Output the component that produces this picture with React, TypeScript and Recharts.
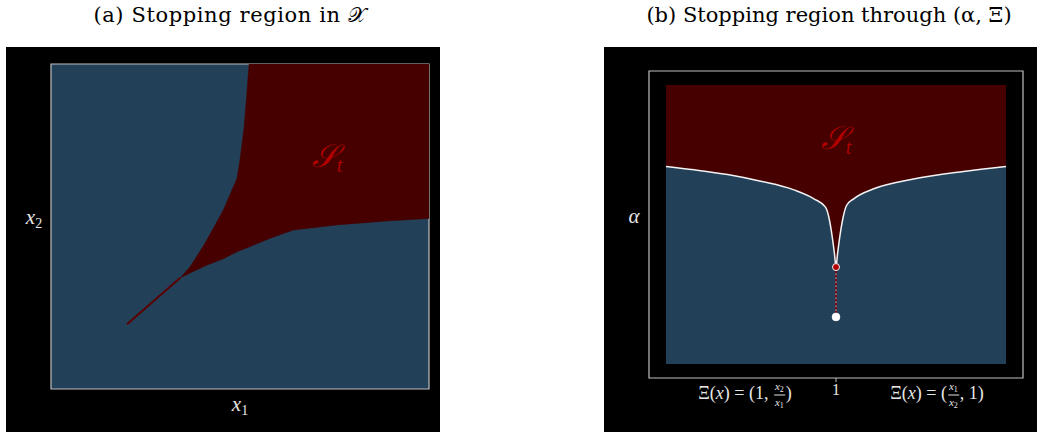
import React from "react";
import {
  ComposedChart,
  Area,
  Line,
  XAxis,
  YAxis,
  ReferenceArea,
  ReferenceDot,
} from "recharts";

// ---------- Panel (a): stopping region in X ----------
const x1Grid = [0.342, 0.368, 0.403, 0.412, 0.456, 0.492, 0.5, 0.511, 0.518, 0.524, 0.58, 0.641, 0.756, 0.888, 1.0];
const stopLowerA = [0.342, 0.357, 0.376, 0.381, 0.401, 0.422, 0.426, 0.431, 0.434, 0.437, 0.464, 0.489, 0.505, 0.517, 0.525];
const stopUpperA = [0.342, 0.376, 0.44, 0.458, 0.551, 0.648, 0.705, 0.807, 0.91, 1.0, 1.0, 1.0, 1.0, 1.0, 1.0];
const diagX1 = [0.201, 0.342];
const diagX2 = [0.199, 0.342];

// ---------- Panel (b): stopping region through (alpha, Xi) ----------
const xiGrid = [0, 0.166, 0.362, 0.557, 0.752, 0.87, 0.938, 0.958, 0.978, 0.991, 1.0, 1.009, 1.022, 1.042, 1.062, 1.104, 1.222, 1.456, 1.75, 2.0];
const alphaBoundary = [0.708, 0.696, 0.679, 0.655, 0.624, 0.592, 0.562, 0.526, 0.455, 0.395, 0.3475, 0.395, 0.455, 0.526, 0.568, 0.592, 0.628, 0.663, 0.69, 0.708];
const alphaMax = 1;
const cuspXi = 1;
const cuspAlpha = 0.3475;
const pointAlpha = 0.169;
const xiTicks = [1];
const xiTickLabels = ["1"];

const BLUE = "#234059";
const RED = "#460000";
const LINE_RED = "#5a0000";
const FRAME = "#c0c0c0";
const LABEL = "#e6e6e6";
const ST_RED = "#b00000";

const areaA = x1Grid.map((x, i) => ({ x, range: [stopLowerA[i], stopUpperA[i]] }));
const diagA = diagX1.map((x, i) => ({ x, y: diagX2[i] }));
const areaB = xiGrid.map((x, i) => ({ x, range: [alphaBoundary[i], alphaMax], y: alphaBoundary[i] }));
const stemB = [
  { x: cuspXi, y: cuspAlpha },
  { x: cuspXi, y: pointAlpha },
];

const serif = "'Liberation Serif', 'DejaVu Serif', serif";

function Abs({ left, top, children, style }: any) {
  return (
    <div
      style={{
        position: "absolute",
        left,
        top,
        transform: "translate(-50%, -50%)",
        whiteSpace: "nowrap",
        lineHeight: 1,
        fontFamily: serif,
        ...style,
      }}
    >
      {children}
    </div>
  );
}

function Sub({ children, size }: any) {
  return (
    <span style={{ fontSize: size, fontStyle: "normal", verticalAlign: "-0.25em" }}>{children}</span>
  );
}

function Frac({ num, den }: any) {
  return (
    <span
      style={{
        display: "inline-flex",
        flexDirection: "column",
        alignItems: "center",
        verticalAlign: "middle",
        fontSize: 11,
        lineHeight: 1,
        margin: "0 1px",
      }}
    >
      <span style={{ borderBottom: `1px solid ${LABEL}`, padding: "0 1px 1px" }}>
        <i>x</i>
        <Sub size={8}>{num}</Sub>
      </span>
      <span style={{ paddingTop: 1 }}>
        <i>x</i>
        <Sub size={8}>{den}</Sub>
      </span>
    </span>
  );
}

const titleStyle = { fontFamily: "'DejaVu Serif', serif", color: "#000" };

export default function App() {
  return (
    <div style={{ position: "absolute", left: 0, top: 0, width: 1037, height: 434, background: "#fff" }}>
      {/* Titles */}
      <Abs left={230} top={15} style={{ ...titleStyle, fontSize: 21, letterSpacing: 0.6 }}>
        (a) Stopping region in 𝒳
      </Abs>
      <Abs left={829} top={15} style={{ ...titleStyle, fontSize: 21 }}>
        (b) Stopping region through (α, Ξ)
      </Abs>

      {/* Panel (a) */}
      <div style={{ position: "absolute", left: 6, top: 47 }}>
        <ComposedChart
          width={434}
          height={385}
          margin={{ top: 17, right: 11, bottom: 43, left: 45 }}
          style={{ background: "#000" }}
        >
          <XAxis type="number" dataKey="x" domain={[0, 1]} hide allowDataOverflow />
          <YAxis type="number" domain={[0, 1]} hide allowDataOverflow />
          <ReferenceArea x1={0} x2={1} y1={0} y2={1} fill={BLUE} fillOpacity={1} stroke={FRAME} strokeWidth={1.2} />
          <Area
            data={areaA}
            dataKey="range"
            type="linear"
            fill={RED}
            fillOpacity={1}
            stroke={RED}
            strokeWidth={0.5}
            isAnimationActive={false}
            activeDot={false}
          />
          <Line
            data={diagA}
            dataKey="y"
            type="linear"
            stroke={LINE_RED}
            strokeWidth={2}
            dot={false}
            isAnimationActive={false}
            activeDot={false}
          />
        </ComposedChart>
      </div>
      <Abs left={327} top={157} style={{ fontSize: 32, color: ST_RED, fontStyle: "italic" }}>
        𝒮<Sub size={20}><i>t</i></Sub>
      </Abs>
      <Abs left={240} top={406} style={{ fontSize: 21, color: LABEL, fontStyle: "italic" }}>
        x<Sub size={14}>1</Sub>
      </Abs>
      <Abs left={34} top={219} style={{ fontSize: 21, color: LABEL, fontStyle: "italic" }}>
        x<Sub size={14}>2</Sub>
      </Abs>

      {/* Panel (b) */}
      <div style={{ position: "absolute", left: 604, top: 47 }}>
        <ComposedChart
          width={433}
          height={385}
          margin={{ top: 24, right: 14, bottom: 24, left: 45 }}
          style={{ background: "#000" }}
        >
          <XAxis
            type="number"
            dataKey="x"
            domain={[-0.1, 2.1]}
            ticks={xiTicks}
            tickFormatter={(v: number) => xiTickLabels[xiTicks.indexOf(v)] ?? ""}
            axisLine={false}
            tickLine={{ stroke: FRAME }}
            tickSize={4}
            height={30}
            tick={{ fill: LABEL, fontSize: 16, fontFamily: serif }}
            allowDataOverflow
          />
          <YAxis type="number" domain={[-0.05, 1.05]} hide allowDataOverflow />
          <ReferenceArea x1={-0.1} x2={2.1} y1={-0.05} y2={1.05} fill="none" stroke={FRAME} strokeWidth={1.2} />
          <ReferenceArea x1={0} x2={2} y1={0} y2={1} fill={BLUE} fillOpacity={1} stroke="none" />
          <Area
            data={areaB}
            dataKey="range"
            type="monotone"
            fill={RED}
            fillOpacity={1}
            stroke="none"
            isAnimationActive={false}
            activeDot={false}
          />
          <Line
            data={areaB}
            dataKey="y"
            type="monotone"
            stroke="#f2f2f2"
            strokeWidth={1.5}
            dot={false}
            isAnimationActive={false}
            activeDot={false}
          />
          <Line
            data={stemB}
            dataKey="y"
            type="linear"
            stroke="#d9a0a8"
            strokeWidth={1}
            dot={false}
            isAnimationActive={false}
            activeDot={false}
          />
          <Line
            data={stemB}
            dataKey="y"
            type="linear"
            stroke="#7a0a1a"
            strokeWidth={2}
            strokeDasharray="2.5 1.5"
            dot={false}
            isAnimationActive={false}
            activeDot={false}
          />
          <ReferenceDot x={cuspXi} y={cuspAlpha} r={3.5} fill="#b00000" stroke="#f0f0f0" strokeWidth={1} />
          <ReferenceDot x={cuspXi} y={pointAlpha} r={4} fill="#ffffff" stroke="#ffffff" strokeWidth={0.5} />
        </ComposedChart>
      </div>
      <Abs left={836} top={139} style={{ fontSize: 32, color: ST_RED, fontStyle: "italic" }}>
        𝒮<Sub size={20}><i>t</i></Sub>
      </Abs>
      <Abs left={634} top={216} style={{ fontSize: 21, color: LABEL, fontStyle: "italic" }}>
        α
      </Abs>
      <Abs left={745} top={395} style={{ fontSize: 18, color: LABEL }}>
        Ξ(<i>x</i>) = (1, <Frac num="2" den="1" />)
      </Abs>
      <Abs left={937} top={395} style={{ fontSize: 18, color: LABEL }}>
        Ξ(<i>x</i>) = (<Frac num="1" den="2" />, 1)
      </Abs>
    </div>
  );
}
